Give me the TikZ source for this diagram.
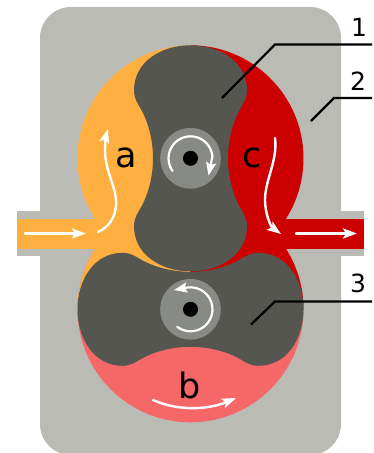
\documentclass[tikz,border=0pt]{standalone}
\usepackage{fontspec}
\setmainfont{DejaVu Sans}
\usetikzlibrary{arrows.meta}
\definecolor{housing}{HTML}{B9BBB4}
\definecolor{rotor}{HTML}{555650}
\definecolor{hubc}{HTML}{888A85}
\definecolor{inlet}{HTML}{FFAE40}
\definecolor{outlet}{HTML}{CC0000}
\definecolor{carried}{HTML}{F66767}
\tikzset{
  flow/.style={draw=white,line width=2.4pt,line cap=round,-{Stealth[length=14pt,width=10pt,inset=3pt]}},
  spin/.style={draw=white,line width=2.2pt,line cap=round,-{Stealth[length=13pt,width=10pt,inset=2pt]}},
  lead/.style={draw=black,line width=2.2pt},
  letter/.style={font=\fontsize{35}{35}\selectfont,text=black,anchor=base,inner sep=0pt},
  digit/.style={font=\fontsize{25}{25}\selectfont,text=black,anchor=base,inner sep=0pt},
}
\newcommand{\rotorshape}{
  (0,-113) .. controls (-30,-113) and (-56.5,-96) .. (-56.5,-68)
  .. controls (-56.5,-60) and (-53,-55) .. (-50,-50)
  .. controls (-42,-36) and (-37.5,-18) .. (-37.5,0)
  .. controls (-37.5,18) and (-42,36) .. (-50,50)
  .. controls (-53,55) and (-56.5,60) .. (-56.5,68)
  .. controls (-56.5,96) and (-30,113) .. (0,113)
  .. controls (30,113) and (56.5,96) .. (56.5,68)
  .. controls (56.5,60) and (53,55) .. (50,50)
  .. controls (42,36) and (37.5,18) .. (37.5,0)
  .. controls (37.5,-18) and (42,-36) .. (50,-50)
  .. controls (53,-55) and (56.5,-60) .. (56.5,-68)
  .. controls (56.5,-96) and (30,-113) .. (0,-113) -- cycle}
\newcommand{\chamberfill}[1]{
  \fill[#1] (190.5,158.3) circle[radius=113];
  \fill[#1] (190.5,309.3) circle[radius=113];
  \fill[#1] (17,219) rectangle (364,249.3);}
\begin{document}
\begin{tikzpicture}[x=1pt,y=1pt,yscale=-1]
\useasboundingbox (0,0) rectangle (373,453);
\fill[white] (0,0) rectangle (373,453);
\coordinate (up) at (190.5,158.3);
\coordinate (low) at (190.5,309.3);
\begin{scope}
  \clip (0,0) rectangle (373,453);
  \fill[housing,rounded corners=31pt] (40,7) rectangle (341,455);
\end{scope}
\fill[housing] (17,211) rectangle (364,256);
\fill[carried] (low) circle[radius=113];
\begin{scope}
  \clip (0,0) rectangle (190.5,309.3);
  \chamberfill{inlet}
\end{scope}
\begin{scope}
  \clip (190.5,0) rectangle (373,309.3);
  \chamberfill{outlet}
\end{scope}
\fill[rotor,shift={(up)}] \rotorshape;
\fill[rotor,shift={(low)},rotate=90] \rotorshape;
\fill[hubc] (up) circle[radius=30.3];
\fill[hubc] (low) circle[radius=30.3];
\fill[black] (up) circle[radius=7.5];
\fill[black] (low) circle[radius=7.5];
% rotation arrows
\draw[spin] ([shift={(-215:22)}]up) arc[start angle=-215,end angle=-5,radius=22] -- (208.5,175.5);
\draw[spin] ([shift={(127:22)}]low) arc[start angle=127,end angle=-100,radius=22] -- (174,290);
% flow arrows
\coordinate (inA) at (25,233.5);\coordinate (inB) at (86,233.5);
\coordinate (outA) at (296,233.5);\coordinate (outB) at (357,233.5);
\draw[flow] (inA) -- (inB);
\draw[flow] (outA) -- (outB);
\draw[flow] (98,232) .. controls (112,226) and (117,212) .. (116,200)
  .. controls (115,185) and (105,170) .. (105,150) .. controls (105,143) and (106,136) .. (108,129);
\draw[flow] (275,138) .. controls (278,160) and (265,180) .. (265,200)
  .. controls (265,212) and (270,226) .. (281,234);
\draw[flow] (153,400) .. controls (175,410) and (205,411) .. (236,398);
% labels
\node[letter] (la) at (126.5,167.7) {a};
\node[letter] (lc) at (252,167.7) {c};
\node[letter] (lb) at (190,398) {b};
\node[digit] (n1) at (359,36.7) {1};
\node[digit] (n2) at (358,90) {2};
\node[digit] (n3) at (358,292) {3};
% leaders
\coordinate (e1) at (372,44.5);\coordinate (e2) at (372,98);\coordinate (e3) at (372,301.5);
\coordinate (s1) at (222,98);\coordinate (s2) at (311,121);\coordinate (s3) at (251,324.5);
\draw[lead] (s1) -- (275,44.5) -- (e1);
\draw[lead] (s2) -- (334,98) -- (e2);
\draw[lead] (s3) -- (275,301.5) -- (e3);
\end{tikzpicture}
\end{document}
